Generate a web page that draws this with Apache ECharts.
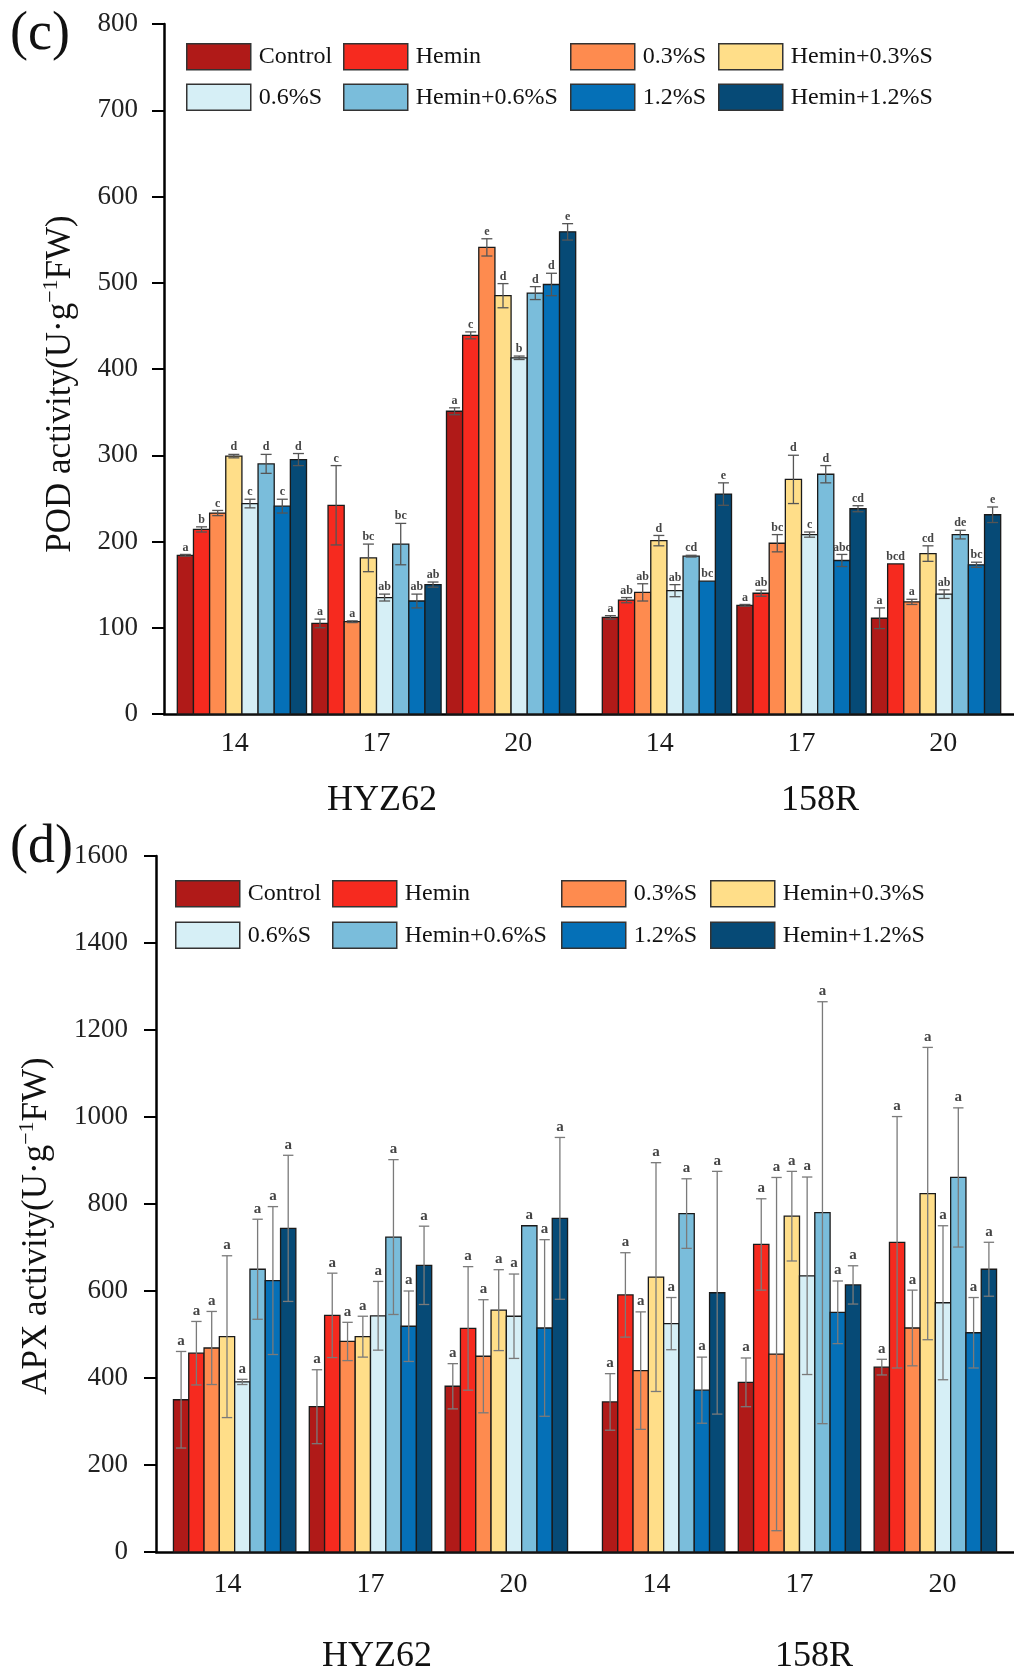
<!DOCTYPE html>
<html>
<head>
<meta charset="utf-8">
<title>POD / APX activity</title>
<script src="https://cdn.jsdelivr.net/npm/echarts@6/dist/echarts.min.js"></script>
<style>
  html, body { margin: 0; padding: 0; background: #fff; }
  #chart { width: 1014px; height: 1675px; }
</style>
</head>
<body>
<div id="chart"></div>
<script>
// 处理名称与配色
const treatments = ['Control', 'Hemin', '0.3%S', 'Hemin+0.3%S', '0.6%S', 'Hemin+0.6%S', '1.2%S', 'Hemin+1.2%S'];
const colors = ['#B01A18', '#F62A1F', '#FE8B4F', '#FFDE89', '#D6EFF6', '#7ABDDB', '#0570B7', '#064A76'];
// 横轴：每个品种 3 个天数
const days = ['14', '17', '20', '14', '17', '20'];
const genotypes = ['HYZ62', '158R'];

// (c) POD 活性，每行一个处理，列顺序同 days
const podMean = [
  [184, 105, 351, 112, 126, 111],
  [214, 242, 439, 132, 140, 174],
  [233, 107, 541, 141, 198, 130],
  [299, 181, 485, 201, 272, 186],
  [244, 135, 413, 143, 208, 139],
  [290, 197, 488, 183, 278, 208],
  [241, 131, 498, 154, 178, 173],
  [295, 150, 559, 255, 238, 231]
];
const podSd = [
  [1, 5, 4, 2, 1, 12],
  [3, 46, 4, 3, 3.5, 0],
  [3, 1, 10, 10, 10, 3],
  [2, 16, 14, 6, 28, 9],
  [5, 4, 2, 7, 3, 5],
  [11, 24, 7.5, 1, 10, 5],
  [8, 8, 13, 0, 7, 3],
  [7, 3, 9.5, 13, 3.5, 9]
];
const podLetters = [
  ['a', 'a', 'a', 'a', 'a', 'a'],
  ['b', 'c', 'c', 'ab', 'ab', 'bcd'],
  ['c', 'a', 'e', 'ab', 'bc', 'a'],
  ['d', 'bc', 'd', 'd', 'd', 'cd'],
  ['c', 'ab', 'b', 'ab', 'c', 'ab'],
  ['d', 'bc', 'd', 'cd', 'd', 'de'],
  ['c', 'ab', 'd', 'bc', 'abc', 'bc'],
  ['d', 'ab', 'e', 'e', 'cd', 'e']
];

// (d) APX 活性
const apxMean = [
  [350, 334, 381, 345, 390, 425],
  [457, 544, 514, 591, 707, 712],
  [469, 484, 450, 417, 455, 515],
  [495, 495, 556, 632, 772, 824],
  [391, 543, 542, 525, 635, 573],
  [650, 724, 750, 778, 780, 861],
  [624, 519, 515, 372, 551, 504],
  [744, 659, 767, 596, 614, 650]
];
const apxSd = [
  [111, 85, 52, 65, 56, 18],
  [73, 97, 142, 97, 105, 289],
  [84, 44, 130, 135, 406, 87],
  [186, 47, 93, 263, 103, 336],
  [6, 79, 97, 60, 227, 177],
  [115, 178, 0, 80, 485, 160],
  [170, 81, 203, 76, 72, 81],
  [168, 90, 186, 279, 44, 62]
];
const apxLetters = [
  ['a', 'a', 'a', 'a', 'a', 'a'],
  ['a', 'a', 'a', 'a', 'a', 'a'],
  ['a', 'a', 'a', 'a', 'a', 'a'],
  ['a', 'a', 'a', 'a', 'a', 'a'],
  ['a', 'a', 'a', 'a', 'a', 'a'],
  ['a', 'a', 'a', 'a', 'a', 'a'],
  ['a', 'a', 'a', 'a', 'a', 'a'],
  ['a', 'a', 'a', 'a', 'a', 'a']
];

const SERIF = "'Liberation Serif', 'Times New Roman', serif";

// 两个面板的版式
const panels = [
  {
    tag: '(c)', tagY: 35, mean: podMean, sd: podSd, letters: podLetters,
    max: 800, interval: 100, yName: 'POD activity(U·g',
    grid: { left: 164, top: 24, width: 854, height: 690 },
    barW: 0.114, errColor: '#555', letterSize: 12, letterGap: 1,
    yLabelMargin: 26, nameGap: 82, namePad: 30, xLabelMargin: 16,
    legendTop: 43, legendLeft: [186, 343, 570, 718], legendGap: 13,
    geneY: 801, geneX: [382, 820]
  },
  {
    tag: '(d)', tagY: 848, mean: apxMean, sd: apxSd, letters: apxLetters,
    max: 1600, interval: 200, yName: 'APX activity(U·g',
    grid: { left: 156, top: 856, width: 862, height: 696 },
    barW: 0.107, errColor: '#7a7a7a', letterSize: 15, letterGap: 3,
    yLabelMargin: 28, nameGap: 98, namePad: 44, xLabelMargin: 19,
    legendTop: 880, legendLeft: [175, 332, 561, 710], legendGap: 14,
    geneY: 1657, geneX: [377, 814]
  }
];

// 同一天数组内柱子居中；组间距 0.95 个类目宽
function barX(i, j, barW) {
  const center = Math.floor(j / 3) * 3 + 1.5 + (j % 3 - 1) * 0.95;
  return center + (i - 3.5) * barW;
}

function makeRender(i, p) {
  return function (params, api) {
    const x = api.value(0);
    const v = api.value(1);
    const e = api.value(2);
    const w = api.size([p.barW, 0])[0];
    const base = api.coord([x, 0]);
    const top = api.coord([x, v]);
    const hi = api.coord([x, v + e]);
    const lo = api.coord([x, v - e]);
    const cap = w * 0.68;
    const children = [{
      type: 'rect',
      shape: { x: top[0] - w / 2, y: top[1], width: w, height: base[1] - top[1] },
      style: { fill: colors[i], stroke: '#1a1a1a', lineWidth: 1.3 }
    }];
    if (e > 0) {
      const es = { stroke: p.errColor, lineWidth: 1.3 };
      children.push(
        { type: 'line', shape: { x1: top[0], y1: lo[1], x2: top[0], y2: hi[1] }, style: es },
        { type: 'line', shape: { x1: top[0] - cap / 2, y1: hi[1], x2: top[0] + cap / 2, y2: hi[1] }, style: es },
        { type: 'line', shape: { x1: top[0] - cap / 2, y1: lo[1], x2: top[0] + cap / 2, y2: lo[1] }, style: es }
      );
    }
    children.push({
      type: 'text',
      style: {
        text: p.letters[i][params.dataIndex],
        x: top[0], y: hi[1] - p.letterGap,
        align: 'center', verticalAlign: 'bottom',
        fontFamily: SERIF, fontSize: p.letterSize, fontWeight: 'bold', fill: '#444'
      }
    });
    return { type: 'group', children: children };
  };
}

const grid = [], xAxis = [], yAxis = [], series = [], legend = [], graphic = [];
const legendCols = [[0, 4], [1, 5], [2, 6], [3, 7]];

panels.forEach(function (p, pi) {
  grid.push(p.grid);
  // 标签与主刻度
  xAxis.push({
    gridIndex: pi, type: 'category', data: days, position: 'bottom',
    axisLine: { lineStyle: { color: '#000', width: 2.5 } },
    axisTick: { alignWithLabel: true, length: 13, lineStyle: { color: '#000', width: 2 } },
    axisLabel: { fontFamily: SERIF, fontSize: 28, color: '#1a1a1a', margin: p.xLabelMargin }
  });
  // 组边界短刻度
  xAxis.push({
    gridIndex: pi, type: 'category', data: days, position: 'bottom',
    axisLine: { show: false },
    axisTick: { length: 7, lineStyle: { color: '#000', width: 2 } },
    axisLabel: { show: false }
  });
  // 柱子用的数值轴
  xAxis.push({ gridIndex: pi, type: 'value', min: 0, max: 6, show: false });

  yAxis.push({
    gridIndex: pi, type: 'value', min: 0, max: p.max, interval: p.interval,
    axisLine: { show: true, lineStyle: { color: '#000', width: 2.5 } },
    axisTick: { show: true, length: 12, lineStyle: { color: '#000', width: 2 } },
    splitLine: { show: false },
    axisLabel: {
      fontFamily: SERIF, fontSize: 27, color: '#222', margin: p.yLabelMargin,
      formatter: function (v) { return String(v); }
    },
    name: '{t|' + p.yName + '}{s|−1}{t|FW)}',
    nameLocation: 'middle', nameRotate: 90, nameGap: p.nameGap,
    nameTextStyle: {
      fontFamily: SERIF, fontSize: 35, color: '#111',
      padding: [0, p.namePad, 0, 0],
      rich: {
        t: { fontFamily: SERIF, fontSize: 35, lineHeight: 42, color: '#111' },
        s: { fontFamily: SERIF, fontSize: 22, lineHeight: 42, verticalAlign: 'top', color: '#111' }
      }
    }
  });

  treatments.forEach(function (name, i) {
    series.push({
      name: name, type: 'custom',
      xAxisIndex: pi * 3 + 2, yAxisIndex: pi,
      encode: { x: 0, y: 1 },
      itemStyle: { color: colors[i], borderColor: '#222', borderWidth: 1.3 },
      renderItem: makeRender(i, p),
      data: p.mean[i].map(function (v, j) { return [barX(i, j, p.barW), v, p.sd[i][j]]; })
    });
  });

  legendCols.forEach(function (col, ci) {
    legend.push({
      orient: 'vertical', left: p.legendLeft[ci], top: p.legendTop,
      padding: 0, itemGap: p.legendGap, itemWidth: 64, itemHeight: 26,
      icon: 'rect', selectedMode: false,
      itemStyle: { borderColor: '#333', borderWidth: 1.5 },
      textStyle: { fontFamily: SERIF, fontSize: 24, color: '#111', padding: [0, 0, 0, 3] },
      data: col.map(function (k) { return treatments[k]; })
    });
  });

  graphic.push({
    type: 'text', x: 10, y: p.tagY,
    style: { text: p.tag, fontFamily: SERIF, fontSize: 54, fill: '#111', verticalAlign: 'middle' }
  });
  genotypes.forEach(function (g, gi) {
    graphic.push({
      type: 'text', x: p.geneX[gi], y: p.geneY,
      style: { text: g, fontFamily: SERIF, fontSize: 36, fill: '#111', align: 'center', verticalAlign: 'middle' }
    });
  });
});

const chart = echarts.init(document.getElementById('chart'), null, { renderer: 'canvas' });
chart.setOption({
  animation: false,
  backgroundColor: '#fff',
  grid: grid,
  xAxis: xAxis,
  yAxis: yAxis,
  legend: legend,
  graphic: graphic,
  series: series
});
</script>
</body>
</html>
